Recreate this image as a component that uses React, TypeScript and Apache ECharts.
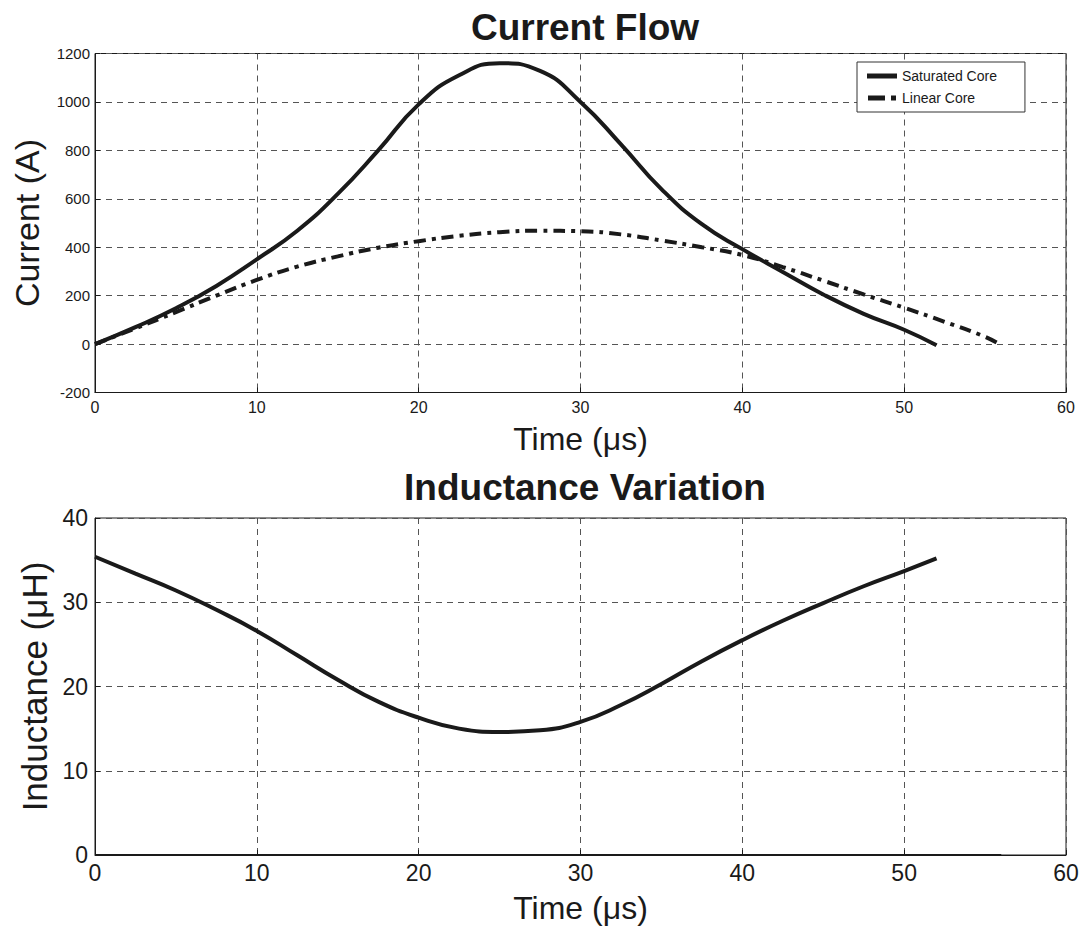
import React, { useEffect, useRef } from "react";
import * as echarts from "echarts";

const satTime = [0, 2.5, 5, 7.5, 10, 12.5, 15, 17.5, 20, 22.5, 25, 27.5, 30, 32.5, 35, 37.5, 40, 42.5, 45, 47.5, 50, 52];
const satCurrent = [0, 70, 148, 240, 350, 468, 620, 800, 990, 1110, 1160, 1128, 1000, 825, 640, 495, 392, 298, 205, 125, 59, -5];

const linTime = [0, 2.5, 5, 7.5, 10, 12.5, 15, 17.5, 20, 22.5, 25, 27.5, 30, 32.5, 35, 37.5, 40, 42.5, 45, 47.5, 50, 52.5, 55, 56];
const linCurrent = [0, 65, 132, 200, 265, 320, 362, 398, 425, 447, 462, 468, 466, 453, 428, 400, 368, 318, 262, 205, 150, 92, 30, -5];

const indTime = [0, 2.5, 5, 7.5, 10, 12.5, 15, 17.5, 20, 22.5, 25, 27.5, 30, 32.5, 35, 37.5, 40, 42.5, 45, 47.5, 50, 52];
const inductance = [35.4, 33.4, 31.4, 29.1, 26.6, 23.7, 20.8, 18.2, 16.3, 15.0, 14.6, 14.8, 15.8, 17.8, 20.3, 23.0, 25.5, 27.8, 29.9, 31.9, 33.7, 35.2];

const zeroTime = [0, 56];
const zeroInd = [0, 0];

const FONT = "'Liberation Sans', Arial, Helvetica, sans-serif";
const INK = "#1a1a1a";

const pairs = (xs: number[], ys: number[]) => xs.map((x, i) => [x, ys[i]]);

export default function App() {
  const ref = useRef<HTMLDivElement>(null);
  useEffect(() => {
    if (!ref.current) return;
    const chart = echarts.init(ref.current, undefined, { renderer: "svg" });
    const splitLine = { show: true, lineStyle: { color: "#555", type: [6, 5] as any, width: 1 } };
    const axisLine = { show: true, onZero: false, lineStyle: { color: INK, width: 1 } };
    const axisTick = { show: true, inside: true, length: 5, lineStyle: { color: INK } };
    const plain = (v: number) => String(v);
    chart.setOption({
      animation: false,
      backgroundColor: "#fff",
      textStyle: { fontFamily: FONT, color: INK },
      title: [
        { text: "Current Flow", left: 580, top: 4, textAlign: "center", textStyle: { fontFamily: FONT, fontSize: 37, fontWeight: "bold", color: INK } },
        { text: "Inductance Variation", left: 580, top: 464, textAlign: "center", textStyle: { fontFamily: FONT, fontSize: 37, fontWeight: "bold", color: INK } },
      ],
      legend: {
        data: [
          { name: "Saturated Core", icon: "path://M0 0H30V5H0Z" },
          { name: "Linear Core", icon: "path://M0 0H17V5H0Z M23 0H28V5H23Z" },
        ],
        orient: "vertical",
        left: 857,
        top: 62,
        padding: [7, 28, 7, 10],
        itemGap: 8,
        itemWidth: 30,
        itemHeight: 5,
        itemStyle: { color: INK },
        borderColor: "#333",
        borderWidth: 1,
        borderRadius: 0,
        backgroundColor: "#fff",
        textStyle: { fontFamily: FONT, fontSize: 14, color: INK },
      },
      grid: [
        { left: 95, top: 53.5, width: 971, height: 339, show: true, borderColor: INK, borderWidth: 1, backgroundColor: "transparent" },
        { left: 95, top: 518, width: 971, height: 337, show: true, borderColor: INK, borderWidth: 1, backgroundColor: "transparent" },
      ],
      xAxis: [
        {
          gridIndex: 0, type: "value", min: 0, max: 60, interval: 10,
          name: "Time (μs)", nameLocation: "middle", nameGap: 30,
          nameTextStyle: { fontFamily: FONT, fontSize: 32, color: INK },
          axisLine, axisTick, splitLine,
          axisLabel: { fontFamily: FONT, fontSize: 16, color: INK, margin: 7, formatter: plain },
        },
        {
          gridIndex: 1, type: "value", min: 0, max: 60, interval: 10,
          name: "Time (μs)", nameLocation: "middle", nameGap: 37,
          nameTextStyle: { fontFamily: FONT, fontSize: 32, color: INK },
          axisLine, axisTick, splitLine,
          axisLabel: { fontFamily: FONT, fontSize: 23, color: INK, margin: 6, formatter: plain },
        },
      ],
      yAxis: [
        {
          gridIndex: 0, type: "value", min: -200, max: 1200, interval: 200,
          name: "Current (A)", nameLocation: "middle", nameGap: 51,
          nameTextStyle: { fontFamily: FONT, fontSize: 34, color: INK },
          axisLine, axisTick, splitLine,
          axisLabel: { fontFamily: FONT, fontSize: 15, color: INK, margin: 5, formatter: plain },
        },
        {
          gridIndex: 1, type: "value", min: 0, max: 40, interval: 10,
          name: "Inductance (μH)", nameLocation: "middle", nameGap: 43,
          nameTextStyle: { fontFamily: FONT, fontSize: 35, color: INK },
          axisLine, axisTick, splitLine,
          axisLabel: { fontFamily: FONT, fontSize: 23, color: INK, margin: 7, formatter: plain },
        },
      ],
      series: [
        {
          name: "Saturated Core", type: "line", xAxisIndex: 0, yAxisIndex: 0,
          data: pairs(satTime, satCurrent), smooth: 0.5, symbol: "none",
          lineStyle: { color: INK, width: 4, type: "solid" }, itemStyle: { color: INK },
        },
        {
          name: "Linear Core", type: "line", xAxisIndex: 0, yAxisIndex: 0,
          data: pairs(linTime, linCurrent), smooth: 0.5, symbol: "none",
          lineStyle: { color: INK, width: 4, type: [12, 6, 4, 6] as any }, itemStyle: { color: INK },
        },
        {
          name: "Inductance", type: "line", xAxisIndex: 1, yAxisIndex: 1,
          data: pairs(indTime, inductance), smooth: 0.5, symbol: "none",
          lineStyle: { color: INK, width: 4 },
        },
        {
          name: "Linear Inductance", type: "line", xAxisIndex: 1, yAxisIndex: 1,
          data: pairs(zeroTime, zeroInd), symbol: "none",
          lineStyle: { color: INK, width: 2 },
        },
      ],
    });
    return () => chart.dispose();
  }, []);
  return <div ref={ref} style={{ position: "absolute", left: 0, top: 0, width: 1085, height: 931 }} />;
}
